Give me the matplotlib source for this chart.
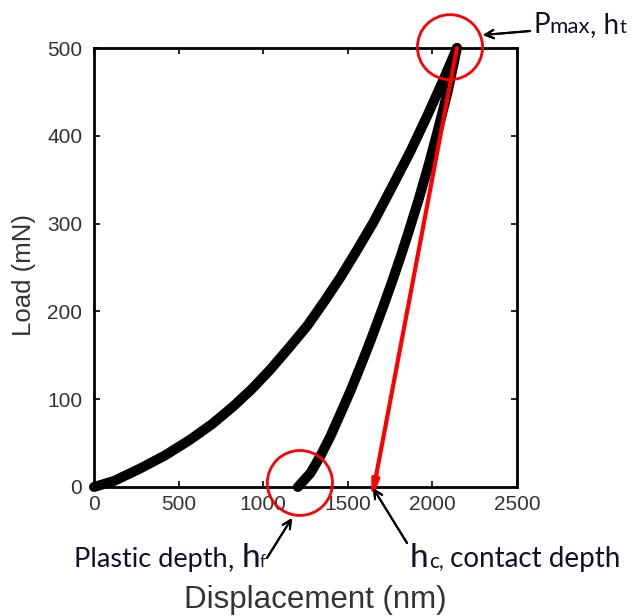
# Load-displacement curve of a nanoindentation test, with the key depths marked.

import matplotlib.pyplot as plt
from matplotlib.patches import Ellipse

# loading branch (nm, mN)
load_disp = [0, 120, 272, 420, 569, 700, 824, 935, 1043, 1150, 1262, 1360,
             1457, 1555, 1653, 1762, 1872, 1970, 2068, 2145]
load_force = [0, 7, 21, 36, 54, 72, 92, 112, 134, 158, 184, 211,
              239, 270, 302, 342, 383, 423, 465, 500]

# unloading branch (nm, mN)
unload_disp = [2145, 2090, 2032, 1975, 1915, 1860, 1813, 1760, 1712, 1635,
               1580, 1517, 1460, 1398, 1340, 1280, 1205]
unload_force = [500, 450, 406, 365, 325, 291, 263, 233, 207, 167,
                140, 110, 85, 58, 36, 16, 0]

# tangent to the top of the unloading curve, down to the contact depth
tangent_disp = [2145, 1640]
tangent_force = [500, -15]

x_ticks = [0, 500, 1000, 1500, 2000, 2500]
y_ticks = [0, 100, 200, 300, 400, 500]

W, H = 637, 616


def px(x, y):
    # picture pixel -> figure fraction
    return (x / W, 1 - y / H)


fig = plt.figure(figsize=(W / 100, H / 100), dpi=100)
ax = fig.add_axes([94 / W, 1 - 487 / H, (517 - 94) / W, (487 - 48) / H])

ax.plot(load_disp, load_force, color="black", lw=7.2, solid_capstyle="round",
        solid_joinstyle="round", clip_on=False, zorder=3)
ax.plot(unload_disp, unload_force, color="black", lw=7.2, solid_capstyle="round",
        solid_joinstyle="round", clip_on=False, zorder=3)
ax.annotate("", xy=(tangent_disp[1], tangent_force[1]),
            xytext=(tangent_disp[0], tangent_force[0]),
            arrowprops=dict(arrowstyle="-|>,head_width=0.18,head_length=0.9",
                            color="red", lw=3, shrinkA=0, shrinkB=0),
            annotation_clip=False, zorder=4)

# red circles at Pmax and at hf
for cx, cy in [(2104, 501), (1217, 4.6)]:
    ax.add_patch(Ellipse((cx, cy), 385, 74, fill=False, ec="red", lw=2,
                         clip_on=False, zorder=5))

ax.set_xlim(0, 2500)
ax.set_ylim(0, 500)
ax.set_xticks(x_ticks)
ax.set_yticks(y_ticks)
for s in ax.spines.values():
    s.set_linewidth(2)
ax.tick_params(direction="in", length=4, width=1.2, top=True, right=True,
               labelsize=15, labelcolor="#333333")
ax.tick_params(axis="x", pad=6)
ax.tick_params(axis="y", pad=8.5)
for lab in ax.get_xticklabels() + ax.get_yticklabels():
    lab.set_fontfamily("Liberation Sans")

ax.set_xlabel("Displacement (nm)", fontsize=22.5, family="Liberation Sans",
              color="#333333", va="center")
ax.xaxis.set_label_coords((315 - 94) / 423, (487 - 600) / 439)
ax.set_ylabel("Load (mN)", fontsize=18.5, family="Liberation Sans",
              color="#333333", va="center")
ax.yaxis.set_label_coords((24 - 94) / 423, (487 - 275) / 439)

tc = "#111122"
fam = "Lato"


def chain(parts, x, y):
    # write text pieces one after another on a common baseline
    fig.canvas.draw()
    r = fig.canvas.get_renderer()
    cur_x = x
    for s, size in parts:
        t = fig.text(*px(cur_x, y), s, fontsize=size, family=fam, color=tc,
                     va="baseline", ha="left")
        cur_x += t.get_window_extent(r).width


chain([("P", 20), ("max", 16), (", h", 20), ("t", 14)], 533, 33)
chain([("Plastic depth", 19.5), (", ", 20), ("h", 24), ("f", 12)], 74, 567)
chain([("h", 24), ("c,", 15), (" contact depth", 20)], 410, 567)

arrow = dict(arrowstyle="->,head_width=0.3,head_length=0.6", color="black", lw=1.5,
             shrinkA=0, shrinkB=0)
fig.add_artist(plt.annotate("", xy=px(483, 35), xytext=px(530, 31),
                            xycoords="figure fraction", arrowprops=arrow))
fig.add_artist(plt.annotate("", xy=px(292, 518), xytext=px(267, 558),
                            xycoords="figure fraction", arrowprops=arrow))
fig.add_artist(plt.annotate("", xy=px(373, 488), xytext=px(407, 543),
                            xycoords="figure fraction", arrowprops=arrow))

fig.savefig("out.png", dpi=100)
